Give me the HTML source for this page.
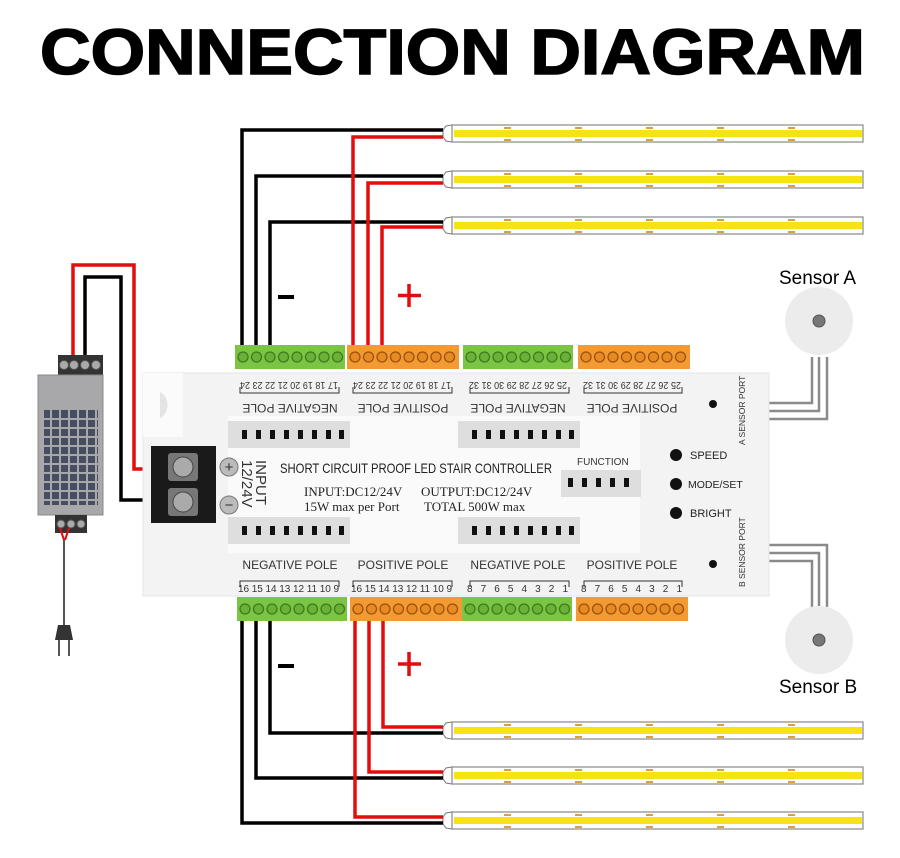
<!DOCTYPE html>
<html><head><meta charset="utf-8"><style>html,body{margin:0;padding:0;background:#fff}svg{display:block}</style></head>
<body>
<svg width="900" height="858" viewBox="0 0 900 858" xmlns="http://www.w3.org/2000/svg" font-family="Liberation Sans, sans-serif">
<defs>
<g id="strip">
  <path d="M443,0 L446,-4 L452,-5 L452,12 L446,11 L443,7 Z" fill="#fff" stroke="#777" stroke-width="1"/>
  <rect x="452" y="-5" width="411" height="17" fill="#fff" stroke="#888" stroke-width="1.2"/>
  <rect x="454" y="0" width="408" height="7" fill="#f7e214"/>
  <g fill="#d9a040">
    <rect x="504" y="-3" width="7" height="2"/><rect x="504" y="9" width="7" height="2"/>
    <rect x="575" y="-3" width="7" height="2"/><rect x="575" y="9" width="7" height="2"/>
    <rect x="646" y="-3" width="7" height="2"/><rect x="646" y="9" width="7" height="2"/>
    <rect x="717" y="-3" width="7" height="2"/><rect x="717" y="9" width="7" height="2"/>
    <rect x="788" y="-3" width="7" height="2"/><rect x="788" y="9" width="7" height="2"/>
  </g>
</g>
<g id="screwsG">
  <rect x="0" y="0" width="110" height="24" fill="#7cc443"/>
  <g fill="#6ab236" stroke="#3f7a20" stroke-width="1.3">
    <circle cx="8" cy="12" r="5"/><circle cx="21.5" cy="12" r="5"/><circle cx="35" cy="12" r="5"/><circle cx="48.5" cy="12" r="5"/><circle cx="62" cy="12" r="5"/><circle cx="75.5" cy="12" r="5"/><circle cx="89" cy="12" r="5"/><circle cx="102.5" cy="12" r="5"/>
  </g>
</g>
<g id="screwsO">
  <rect x="0" y="0" width="112" height="24" fill="#f39a33"/>
  <g fill="#e88a22" stroke="#9a5210" stroke-width="1.3">
    <circle cx="8" cy="12" r="5"/><circle cx="21.5" cy="12" r="5"/><circle cx="35" cy="12" r="5"/><circle cx="48.5" cy="12" r="5"/><circle cx="62" cy="12" r="5"/><circle cx="75.5" cy="12" r="5"/><circle cx="89" cy="12" r="5"/><circle cx="102.5" cy="12" r="5"/>
  </g>
</g>
<g id="slots">
  <rect x="0" y="0" width="122" height="27" fill="#dedede"/>
  <g fill="#111"><rect x="14" y="9" width="5" height="9"/><rect x="28" y="9" width="5" height="9"/><rect x="42" y="9" width="5" height="9"/><rect x="56" y="9" width="5" height="9"/><rect x="70" y="9" width="5" height="9"/><rect x="84" y="9" width="5" height="9"/><rect x="98" y="9" width="5" height="9"/><rect x="111" y="9" width="5" height="9"/></g>
</g>
</defs>

<text x="40" y="74" font-size="64" font-weight="bold" textLength="825" lengthAdjust="spacingAndGlyphs" stroke="#000" stroke-width="1.5">CONNECTION DIAGRAM</text>

<use href="#strip" y="130"/>
<use href="#strip" y="176"/>
<use href="#strip" y="222"/>
<use href="#strip" y="727"/>
<use href="#strip" y="772"/>
<use href="#strip" y="817"/>

<g fill="none" stroke-width="3.5">
  <polyline points="242,345 242,130 443,130" stroke="#000"/>
  <polyline points="256,345 256,176 443,176" stroke="#000"/>
  <polyline points="270,345 270,222 443,222" stroke="#000"/>
  <polyline points="353,345 353,137 443,137" stroke="#e30d0d"/>
  <polyline points="368,345 368,183 443,183" stroke="#e30d0d"/>
  <polyline points="382,345 382,227 443,227" stroke="#e30d0d"/>
  <polyline points="242,620 242,823 443,823" stroke="#000"/>
  <polyline points="256,620 256,778 443,778" stroke="#000"/>
  <polyline points="270,620 270,733 443,733" stroke="#000"/>
  <polyline points="355,620 355,817 443,817" stroke="#e30d0d"/>
  <polyline points="369,620 369,772 443,772" stroke="#e30d0d"/>
  <polyline points="383,620 383,727 443,727" stroke="#e30d0d"/>
  <polyline points="73,360 73,265 134,265 134,469 155,469" stroke="#e30d0d"/>
  <polyline points="85,360 85,277 121,277 121,500 155,500" stroke="#000"/>
</g>
<rect x="278" y="295" width="16" height="4" fill="#000"/>
<rect x="278" y="664" width="16" height="4" fill="#000"/>
<path d="M409,284 V307 M398,295.5 H421" stroke="#e30d0d" stroke-width="3.5"/>
<path d="M409,652 V676 M398,664 H421" stroke="#e30d0d" stroke-width="3.5"/>

<g fill="none" stroke="#8a8a8a" stroke-width="2.5">
  <polyline points="768,403 812,403 812,357"/>
  <polyline points="768,411 819,411 819,357"/>
  <polyline points="768,419 827,419 827,357"/>
  <polyline points="768,545 827,545 827,607"/>
  <polyline points="768,553 819,553 819,607"/>
  <polyline points="768,561 812,561 812,607"/>
</g>
<circle cx="819" cy="321" r="34" fill="#ececec"/><circle cx="819" cy="321" r="6" fill="#777" stroke="#555"/>
<circle cx="819" cy="640" r="34" fill="#ececec"/><circle cx="819" cy="640" r="6" fill="#777" stroke="#555"/>
<text x="779" y="284" font-size="19">Sensor A</text>
<text x="779" y="693" font-size="19">Sensor B</text>

<rect x="143" y="373" width="626" height="223" fill="#f3f3f3" stroke="#e6e6e6"/>
<rect x="228" y="416" width="412" height="137" fill="#fafafa"/>
<rect x="143" y="373" width="40" height="64" fill="#fbfbfb"/>
<path d="M160,392 a12,14 0 0 1 0,26" fill="#e4e4e4"/>
<use href="#screwsG" x="235" y="345"/>
<use href="#screwsO" x="347" y="345"/>
<use href="#screwsG" x="463" y="345"/>
<use href="#screwsO" x="578" y="345"/>
<use href="#screwsG" x="237" y="597"/>
<use href="#screwsO" x="350" y="597"/>
<use href="#screwsG" x="462" y="597"/>
<use href="#screwsO" x="576" y="597"/>
<g font-size="10" fill="#333">
  <text transform="translate(338,382) rotate(180)" textLength="98" lengthAdjust="spacingAndGlyphs">17 18 19 20 21 22 23 24</text>
  <text transform="translate(451,382) rotate(180)" textLength="98" lengthAdjust="spacingAndGlyphs">17 18 19 20 21 22 23 24</text>
  <text transform="translate(567,382) rotate(180)" textLength="98" lengthAdjust="spacingAndGlyphs">25 26 27 28 29 30 31 32</text>
  <text transform="translate(681,382) rotate(180)" textLength="98" lengthAdjust="spacingAndGlyphs">25 26 27 28 29 30 31 32</text>
</g>
<g font-size="12" fill="#333" text-anchor="middle">
  <text transform="translate(290,404) rotate(180)">NEGATIVE POLE</text>
  <text transform="translate(403,404) rotate(180)">POSITIVE POLE</text>
  <text transform="translate(518,404) rotate(180)">NEGATIVE POLE</text>
  <text transform="translate(632,404) rotate(180)">POSITIVE POLE</text>
</g>
<g stroke="#333" fill="none" stroke-width="1">
  <path d="M240,387 V393 H339 V387"/><path d="M353,387 V393 H452 V387"/><path d="M470,387 V393 H569 V387"/><path d="M584,387 V393 H682 V387"/>
  <path d="M240,587 V581 H339 V587"/><path d="M353,587 V581 H452 V587"/><path d="M470,587 V581 H569 V587"/><path d="M584,587 V581 H682 V587"/>
</g>
<g font-size="12" fill="#333" text-anchor="middle">
  <text x="290" y="569">NEGATIVE POLE</text>
  <text x="403" y="569">POSITIVE POLE</text>
  <text x="518" y="569">NEGATIVE POLE</text>
  <text x="632" y="569">POSITIVE POLE</text>
</g>
<g font-size="10" fill="#333">
  <text x="238" y="592" textLength="101" lengthAdjust="spacing">16 15 14 13 12 11 10 9</text>
  <text x="351" y="592" textLength="101" lengthAdjust="spacing">16 15 14 13 12 11 10 9</text>
  <text x="467" y="592" textLength="101" lengthAdjust="spacing">8 7 6 5 4 3 2 1</text>
  <text x="581" y="592" textLength="101" lengthAdjust="spacing">8 7 6 5 4 3 2 1</text>
</g>
<use href="#slots" x="228" y="421"/>
<use href="#slots" x="458" y="421"/>
<use href="#slots" x="228" y="517"/>
<use href="#slots" x="458" y="517"/>
<rect x="561" y="470" width="80" height="27" fill="#dedede"/>
<g fill="#111"><rect x="568" y="478" width="5" height="9"/><rect x="582" y="478" width="5" height="9"/><rect x="596" y="478" width="5" height="9"/><rect x="610" y="478" width="5" height="9"/><rect x="624" y="478" width="5" height="9"/></g>
<text x="577" y="465" font-size="10" fill="#333">FUNCTION</text>
<rect x="151" y="446" width="65" height="77" fill="#1a1a1a"/>
<rect x="168" y="453" width="30" height="28" fill="#777" rx="3"/><circle cx="183" cy="467" r="10" fill="#aaa" stroke="#444"/>
<rect x="168" y="488" width="30" height="28" fill="#777" rx="3"/><circle cx="183" cy="502" r="10" fill="#aaa" stroke="#444"/>
<circle cx="229" cy="467" r="9" fill="#bbb" stroke="#777"/><text x="229" y="472" font-size="15" text-anchor="middle" fill="#333">+</text>
<circle cx="229" cy="505" r="9" fill="#bbb" stroke="#777"/><text x="229" y="510" font-size="15" text-anchor="middle" fill="#333">−</text>
<text transform="translate(256,460) rotate(90)" font-size="15" fill="#333">INPUT</text>
<text transform="translate(242,460) rotate(90)" font-size="15" fill="#333">12/24V</text>
<text x="280" y="473" font-size="14" fill="#222" textLength="272" lengthAdjust="spacingAndGlyphs">SHORT CIRCUIT PROOF LED STAIR CONTROLLER</text>
<g font-family="Liberation Serif, serif" font-size="13" fill="#222">
  <text x="304" y="496">INPUT:DC12/24V</text>
  <text x="304" y="511">15W max per Port</text>
  <text x="421" y="496">OUTPUT:DC12/24V</text>
  <text x="424" y="511">TOTAL 500W max</text>
</g>
<circle cx="676" cy="455" r="6" fill="#111"/><text x="690" y="459" font-size="11" fill="#222">SPEED</text>
<circle cx="676" cy="484" r="6" fill="#111"/><text x="688" y="488" font-size="10.5" fill="#222">MODE/SET</text>
<circle cx="676" cy="513" r="6" fill="#111"/><text x="690" y="517" font-size="11" fill="#222">BRIGHT</text>
<circle cx="713" cy="404" r="4" fill="#111"/><circle cx="713" cy="564" r="4" fill="#111"/>
<text transform="translate(745,445) rotate(-90)" font-size="8.5" fill="#333">A SENSOR PORT</text>
<text transform="translate(745,587) rotate(-90)" font-size="8.5" fill="#333">B SENSOR PORT</text>

<rect x="58" y="355" width="45" height="20" fill="#333"/>
<g fill="#aaa" stroke="#555"><circle cx="64" cy="365" r="4.5"/><circle cx="74" cy="365" r="4.5"/><circle cx="85" cy="365" r="4.5"/><circle cx="96" cy="365" r="4.5"/></g>
<rect x="38" y="375" width="65" height="140" fill="#a8a8ab" stroke="#888"/>
<rect x="44" y="410" width="54" height="95" fill="#28304a" opacity="0.75"/>
<g fill="#a8a8ab">
<rect x="44" y="418" width="54" height="2"/><rect x="44" y="427" width="54" height="2"/><rect x="44" y="436" width="54" height="2"/><rect x="44" y="445" width="54" height="2"/><rect x="44" y="454" width="54" height="2"/><rect x="44" y="463" width="54" height="2"/><rect x="44" y="472" width="54" height="2"/><rect x="44" y="481" width="54" height="2"/><rect x="44" y="490" width="54" height="2"/><rect x="44" y="499" width="54" height="2"/>
<rect x="50" y="410" width="2" height="95"/><rect x="59" y="410" width="2" height="95"/><rect x="68" y="410" width="2" height="95"/><rect x="77" y="410" width="2" height="95"/><rect x="86" y="410" width="2" height="95"/><rect x="95" y="410" width="2" height="95"/>
</g>
<rect x="55" y="515" width="32" height="18" fill="#333"/>
<g fill="#aaa" stroke="#555"><circle cx="61" cy="524" r="4"/><circle cx="71" cy="524" r="4"/><circle cx="81" cy="524" r="4"/></g>
<path d="M60,528 L64,540 M69,528 L65,540" stroke="#e30d0d" stroke-width="2"/>
<path d="M64,540 V625" stroke="#555" stroke-width="2"/>
<path d="M58,625 h12 l3,15 h-18 z" fill="#333"/>
<path d="M59,640 v16 M69,640 v16" stroke="#555" stroke-width="2"/>
</svg>
</body></html>
